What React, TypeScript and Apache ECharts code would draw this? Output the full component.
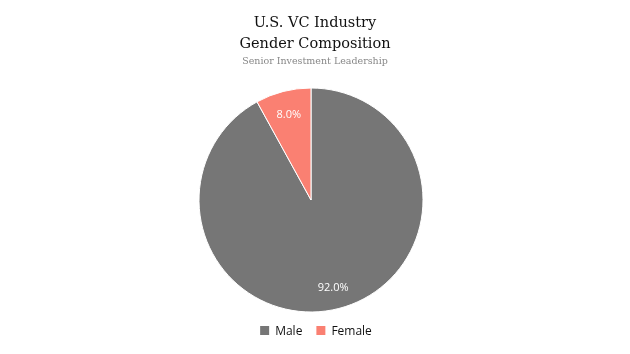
import React, { useEffect, useRef } from "react";
import * as echarts from "echarts";

const categories = ["Male", "Female"];
const shares = [92.0, 8.0];
const colors = ["#767676", "#fa8072"];

export default function App() {
  const ref = useRef<HTMLDivElement>(null);
  useEffect(() => {
    if (!ref.current) return;
    const chart = echarts.init(ref.current, null, { renderer: "svg" });
    const data = categories.map((name, i) => ({ name, value: shares[i], itemStyle: { color: colors[i] } }));
    const ghost = categories.map((name, i) => ({ name, value: shares[i], itemStyle: { color: "rgba(0,0,0,0)" } }));
    chart.setOption({
      animation: false,
      title: {
        text: "U.S. VC Industry\nGender Composition",
        subtext: "Senior Investment Leadership",
        left: "center",
        top: 6,
        itemGap: 2,
        textStyle: { fontFamily: "DejaVu Serif", fontSize: 14.5, fontWeight: "normal", color: "#111", lineHeight: 21 },
        subtextStyle: { fontFamily: "DejaVu Serif", fontSize: 9.5, color: "#888" },
      },
      legend: {
        data: categories,
        bottom: 12,
        left: "center",
        icon: "rect",
        itemWidth: 11,
        itemHeight: 11,
        itemGap: 12,
        textStyle: { fontFamily: "Open Sans", fontSize: 12, color: "#111" },
      },
      series: [
        {
          type: "pie",
          center: [311, 200],
          radius: [0, 112],
          startAngle: 90,
          clockwise: true,
          data,
          label: { show: false },
          labelLine: { show: false },
          itemStyle: { borderColor: "#fff", borderWidth: 1 },
          silent: true,
        },
        {
          type: "pie",
          center: [311, 200],
          radius: [60, 112],
          startAngle: 90,
          clockwise: true,
          data: ghost,
          silent: true,
          label: {
            show: true,
            position: "inside",
            color: "#fff",
            fontFamily: "Open Sans",
            fontSize: 11,
            formatter: (p: any) => p.value.toFixed(1) + "%",
          },
          labelLine: { show: false },
        },
      ],
    });
    return () => chart.dispose();
  }, []);
  return <div ref={ref} style={{ position: "fixed", left: 0, top: 0, width: 630, height: 354 }} />;
}
